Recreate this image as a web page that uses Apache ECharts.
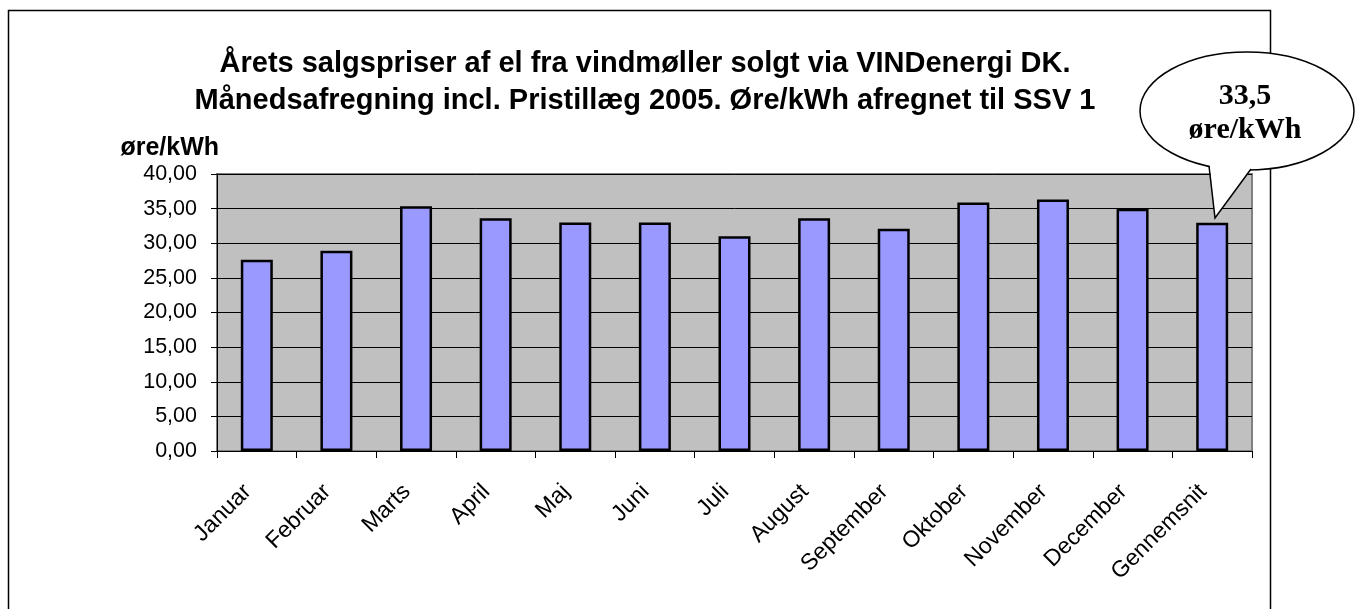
<!DOCTYPE html>
<html><head><meta charset="utf-8">
<script src="https://cdn.jsdelivr.net/npm/echarts@6/dist/echarts.min.js"></script>
<style>html,body{margin:0;padding:0;background:#fff;}#c{width:1358px;height:609px;}</style>
</head><body><div id="c"></div>
<script>
var categories = ['Januar','Februar','Marts','April','Maj','Juni','Juli','August','September','Oktober','November','December','Gennemsnit'];
var prices = [27.6, 28.9, 35.35, 33.6, 33.0, 33.0, 31.0, 33.6, 32.1, 35.9, 36.3, 35.0, 32.95];
var titleLines = ['Årets salgspriser af el fra vindmøller solgt via VINDenergi DK.', 'Månedsafregning incl. Pristillæg 2005. Øre/kWh afregnet til SSV 1'];
var calloutLines = ['33,5', 'øre/kWh'];
var yName = 'øre/kWh';

var chart = echarts.init(document.getElementById('c'), null, {renderer:'canvas'});
chart.setOption({
  animation: false,
  backgroundColor: '#ffffff',
  title: {
    text: titleLines.join('\n'),
    left: 640, top: 40, textAlign: 'center',
    textStyle: {fontFamily:'Arial, Liberation Sans', fontWeight:'bold', fontSize:29, color:'#000', lineHeight:37}
  },
  grid: {left:217, right:106, top:174, bottom:158, show:true, backgroundColor:'#c0c0c0', borderColor:'#808080', borderWidth:2},
  xAxis: {
    type:'category', data: categories,
    axisLine:{lineStyle:{color:'#000', width:1}},
    axisTick:{show:true, interval:0, length:7, lineStyle:{color:'#000'}},
    axisLabel:{interval:0, rotate:45, margin:28, padding:[0,13,0,0], fontFamily:'Arial, Liberation Sans', fontSize:23, color:'#000'}
  },
  yAxis: {
    type:'value', min:0, max:40, interval:5,
    name: yName, nameLocation:'end', nameGap:13,
    nameTextStyle:{fontFamily:'Arial, Liberation Sans', fontWeight:'bold', fontSize:25, color:'#000', align:'right', padding:[0,-2,0,0]},
    axisLine:{show:true, lineStyle:{color:'#000', width:1}},
    axisTick:{show:true, length:6, lineStyle:{color:'#000'}},
    splitLine:{show:true, lineStyle:{color:'#000', width:1}},
    axisLabel:{margin:20, fontFamily:'Arial, Liberation Sans', fontSize:21.5, color:'#000', formatter:function(v){return v.toFixed(2).replace('.', ',');}}
  },
  series: [{
    type:'bar', data: prices, barWidth:32,
    itemStyle:{color:'#9999ff', borderColor:'#000', borderWidth:2.5}
  }],
  graphic: [
    {type:'rect', shape:{x:8.5, y:10.5, width:1262, height:620}, style:{fill:'none', stroke:'#000', lineWidth:1.5}, z:-1},
    {type:'ellipse', shape:{cx:1247, cy:111, rx:107, ry:59}, style:{fill:'#fff', stroke:'#000', lineWidth:1.5}, z:100},
    {type:'polygon', shape:{points:[[1208,158],[1252,158],[1250,171],[1215,218],[1210,167]]}, style:{fill:'#fff', stroke:null}, z:101},
    {type:'polyline', shape:{points:[[1209,166],[1215,218],[1251,169]]}, style:{fill:null, stroke:'#000', lineWidth:1.5}, z:102},
    {type:'text', x:1245, y:96, style:{text:calloutLines[0], x:0, y:0, textAlign:'center', textVerticalAlign:'middle', font:'bold 30px "Liberation Serif", "Times New Roman", serif', fill:'#000'}, z:103},
    {type:'text', x:1245, y:130, style:{text:calloutLines[1], x:0, y:0, textAlign:'center', textVerticalAlign:'middle', font:'bold 30px "Liberation Serif", "Times New Roman", serif', fill:'#000'}, z:103}
  ]
});
</script></body></html>
